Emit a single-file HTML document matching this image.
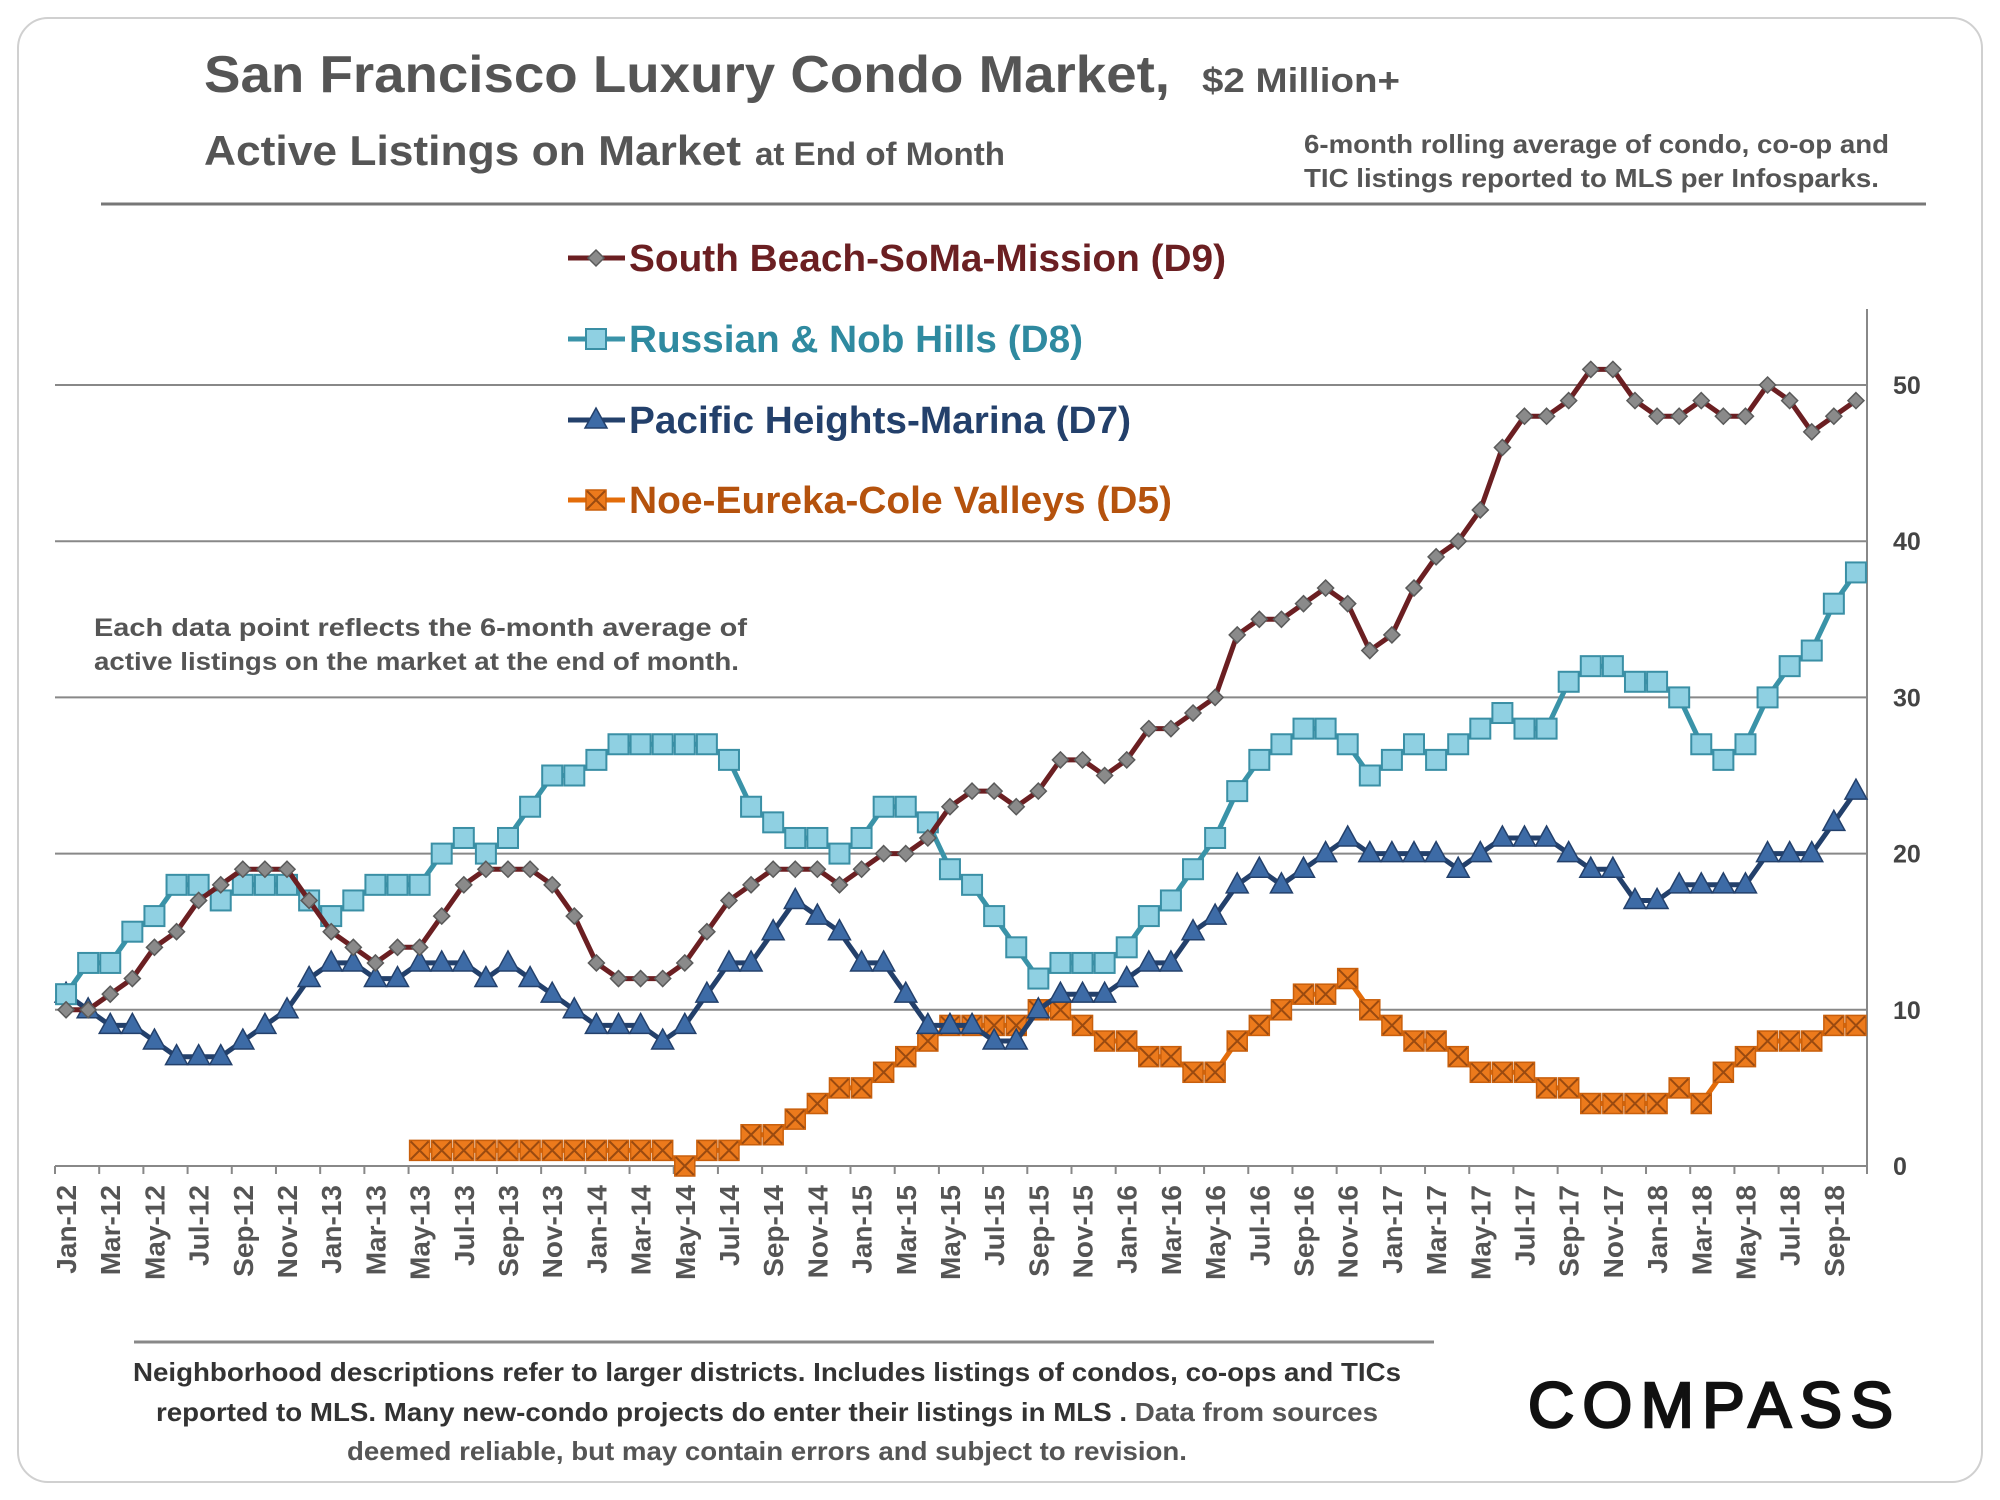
<!DOCTYPE html>
<html><head><meta charset="utf-8"><style>
html,body{margin:0;padding:0;background:#fff;}
svg{display:block;font-family:"Liberation Sans",Arial,sans-serif;}
</style></head><body>
<svg id="chart" width="2000" height="1500" viewBox="0 0 2000 1500" xmlns="http://www.w3.org/2000/svg">
<rect x="18" y="18" width="1964" height="1464" rx="30" fill="#fff" stroke="#d0d0d0" stroke-width="2"/>
<text x="204" y="92" font-size="52" font-weight="bold" fill="#555" textLength="966" lengthAdjust="spacingAndGlyphs">San Francisco Luxury Condo Market,</text>
<text x="1202" y="92" font-size="34" font-weight="bold" fill="#555" textLength="198" lengthAdjust="spacingAndGlyphs">$2 Million+</text>
<text x="204" y="165" font-size="42" font-weight="bold" fill="#555" textLength="537" lengthAdjust="spacingAndGlyphs">Active Listings on Market</text>
<text x="755" y="165" font-size="32" font-weight="bold" fill="#555" textLength="250" lengthAdjust="spacingAndGlyphs">at End of Month</text>
<text x="1304" y="153" font-size="26" font-weight="bold" fill="#555" textLength="585" lengthAdjust="spacingAndGlyphs">6-month rolling average of condo, co-op and</text>
<text x="1304" y="187" font-size="26" font-weight="bold" fill="#555" textLength="575" lengthAdjust="spacingAndGlyphs">TIC listings reported to MLS per Infosparks.</text>
<line x1="101" y1="204" x2="1926" y2="204" stroke="#777" stroke-width="3"/>
<g id="grid"></g>
<g id="axes"></g>
<text x="94" y="636" font-size="25" font-weight="bold" fill="#555" textLength="653" lengthAdjust="spacingAndGlyphs">Each data point reflects the 6-month average of</text>
<text x="94" y="670" font-size="25" font-weight="bold" fill="#555" textLength="645" lengthAdjust="spacingAndGlyphs">active listings on the market at the end of month.</text>
<g id="series"></g>
<g id="legend"></g>
<line x1="134" y1="1342" x2="1434" y2="1342" stroke="#888" stroke-width="3"/>
<text x="767" y="1381" font-size="26" font-weight="bold" fill="#333" text-anchor="middle" textLength="1268" lengthAdjust="spacingAndGlyphs">Neighborhood descriptions refer to larger districts. Includes listings of condos, co-ops and TICs</text>
<text x="767" y="1421" font-size="26" font-weight="bold" fill="#333" text-anchor="middle" textLength="1222" lengthAdjust="spacingAndGlyphs">reported to MLS. Many new-condo projects do enter their listings in MLS . <tspan fill="#555">Data from sources</tspan></text>
<text x="767" y="1460" font-size="26" font-weight="bold" fill="#555" text-anchor="middle" textLength="840" lengthAdjust="spacingAndGlyphs">deemed reliable, but may contain errors and subject to revision.</text>
<text x="1528" y="1427" font-size="64" fill="#111" stroke="#111" stroke-width="2.5" textLength="365" lengthAdjust="spacing">COMPASS</text>
</svg>
<script>
const months = ["Jan","Feb","Mar","Apr","May","Jun","Jul","Aug","Sep","Oct","Nov","Dec"];
const categories = [];
for (let y = 12; y <= 18; y++) for (let m = 0; m < 12; m++) { if (y === 18 && m > 9) break; categories.push(months[m] + "-" + y); }
const d9 = [10,10,11,12,14,15,17,18,19,19,19,17, 15,14,13,14,14,16,18,19,19,19,18,16, 13,12,12,12,13,15,17,18,19,19,19,18, 19,20,20,21,23,24,24,23,24,26,26,25, 26,28,28,29,30,34,35,35,36,37,36,33, 34,37,39,40,42,46,48,48,49,51,51,49, 48,48,49,48,48,50,49,47,48,49];
const d8 = [11,13,13,15,16,18,18,17,18,18,18,17, 16,17,18,18,18,20,21,20,21,23,25,25, 26,27,27,27,27,27,26,23,22,21,21,20, 21,23,23,22,19,18,16,14,12,13,13,13, 14,16,17,19,21,24,26,27,28,28,27,25, 26,27,26,27,28,29,28,28,31,32,32,31, 31,30,27,26,27,30,32,33,36,38];
const d7 = [11,10,9,9,8,7,7,7,8,9,10,12, 13,13,12,12,13,13,13,12,13,12,11,10, 9,9,9,8,9,11,13,13,15,17,16,15, 13,13,11,9,9,9,8,8,10,11,11,11, 12,13,13,15,16,18,19,18,19,20,21,20, 20,20,20,19,20,21,21,21,20,19,19,17, 17,18,18,18,18,20,20,20,22,24];
const d5 = [null,null,null,null,null,null,null,null,null,null,null,null, null,null,null,null,1,1,1,1,1,1,1,1, 1,1,1,1,0,1,1,2,2,3,4,5, 5,6,7,8,9,9,9,9,10,10,9,8, 8,7,7,6,6,8,9,10,11,11,12,10, 9,8,8,7,6,6,6,5,5,4,4,4, 4,5,4,6,7,8,8,8,9,9];
const yTicks = [0,10,20,30,40,50];
const seriesNames = ["South Beach-SoMa-Mission (D9)","Russian & Nob Hills (D8)","Pacific Heights-Marina (D7)","Noe-Eureka-Cole Valleys (D5)"];

const NS = "http://www.w3.org/2000/svg";
const X0 = 55, X1 = 1867, Y0 = 1166, Y50 = 385;
const band = (X1 - X0) / categories.length;
const xs = i => X0 + band * (i + 0.5);
const ys = v => Y0 - (v / 50) * (Y0 - Y50);
function mk(tag, attrs, parent) { const e = document.createElementNS(NS, tag); for (const k in attrs) e.setAttribute(k, attrs[k]); parent.appendChild(e); return e; }

const grid = document.getElementById("grid"), axes = document.getElementById("axes");
yTicks.forEach(t => {
  if (t > 0) {
    const g = mk("line", {x1: X0, x2: X1, y1: ys(t), y2: ys(t), stroke: "#888", "stroke-width": 2}, grid);
    
    
  }
  const tl = mk("text", {x: 1893, y: ys(t) + 9, "font-size": 25, "font-weight": "bold", fill: "#444"}, axes);
  tl.textContent = t;
  
  
});
const xa = mk("line", {x1: X0, x2: X1, y1: Y0, y2: Y0, stroke: "#888", "stroke-width": 2}, axes);


const ya = mk("line", {x1: X1, x2: X1, y1: 309, y2: Y0, stroke: "#888", "stroke-width": 2}, axes);


for (let i = 0; i <= categories.length; i += 2) {
  const tk = mk("line", {x1: X0 + band * i, x2: X0 + band * i, y1: Y0, y2: Y0 + 8, stroke: "#888", "stroke-width": 2}, axes);
  
  
}
categories.forEach((c, i) => {
  if (i % 2) return;
  const x = xs(i) + 10, y = Y0 + 19;
  const t = mk("text", {x: x, y: y, "font-size": 28, "font-weight": "bold", fill: "#555", "text-anchor": "end", transform: `rotate(-90 ${x} ${y})`}, axes);
  t.textContent = c;
  
  
});

const styles = [
  {data: d9, line: "#6b1f22", fill: "#8a8a8a", stroke: "#5a5a5a", shape: "diamond", name: "d9"},
  {data: d8, line: "#3a93a8", fill: "#8fd0e2", stroke: "#3a8fa5", shape: "square", name: "d8"},
  {data: d7, line: "#23406b", fill: "#3d6ba6", stroke: "#23406b", shape: "triangle", name: "d7"},
  {data: d5, line: "#e36c0a", fill: "#ec7a1c", stroke: "#a8500e", shape: "xsquare", name: "d5"}
];
function marker(shape, x, y, st, parent) {
  let e;
  if (shape === "diamond") e = mk("path", {d: `M${x} ${y-8}L${x+8} ${y}L${x} ${y+8}L${x-8} ${y}Z`, fill: st.fill, stroke: st.stroke, "stroke-width": 1.5}, parent);
  else if (shape === "square") e = mk("rect", {x: x-10, y: y-10, width: 20, height: 20, fill: st.fill, stroke: st.stroke, "stroke-width": 2}, parent);
  else if (shape === "triangle") e = mk("path", {d: `M${x} ${y-12}L${x+11} ${y+8}L${x-11} ${y+8}Z`, fill: st.fill, stroke: st.stroke, "stroke-width": 1.5}, parent);
  else {
    e = mk("g", {}, parent);
    mk("rect", {x: x-10, y: y-10, width: 20, height: 20, fill: st.fill, stroke: "#c85f0c", "stroke-width": 1.5}, e);
    mk("path", {d: `M${x-9} ${y-9}L${x+9} ${y+9}M${x+9} ${y-9}L${x-9} ${y+9}`, stroke: "#9a4a10", "stroke-width": 2}, e);
  }
  return e;
}
const sg = document.getElementById("series");
[styles[3], styles[2], styles[1], styles[0]].forEach(st => {
  const g = mk("g", {}, sg);
  
  
  let d = "";
  st.data.forEach((v, i) => { if (v === null) return; d += (d ? "L" : "M") + xs(i).toFixed(1) + " " + ys(v).toFixed(1); });
  const p = mk("path", {d: d, fill: "none", stroke: st.line, "stroke-width": 5, "stroke-linejoin": "round"}, g);
  
  
  st.data.forEach((v, i) => {
    if (v === null) return;
    const m = marker(st.shape, xs(i), ys(v), st, g);
    
    
  });
});

const lg = document.getElementById("legend");
const legY = [258, 339, 420, 500];
const legColors = ["#6b1f22", "#2f8aa0", "#23406b", "#b5520d"];
const legW = [597, 454, 502, 543];
styles.forEach((st, k) => {
  const g = mk("g", {}, lg);
  
  
  const y = legY[k];
  mk("line", {x1: 568, x2: 625, y1: y, y2: y, stroke: st.line, "stroke-width": 5}, g);
  marker(st.shape, 596, y, st, g);
  const t = mk("text", {x: 629, y: y + 13, "font-size": 38, "font-weight": "bold", fill: legColors[k], textLength: legW[k], lengthAdjust: "spacingAndGlyphs"}, g);
  t.textContent = seriesNames[k];
});
</script>
</body></html>
